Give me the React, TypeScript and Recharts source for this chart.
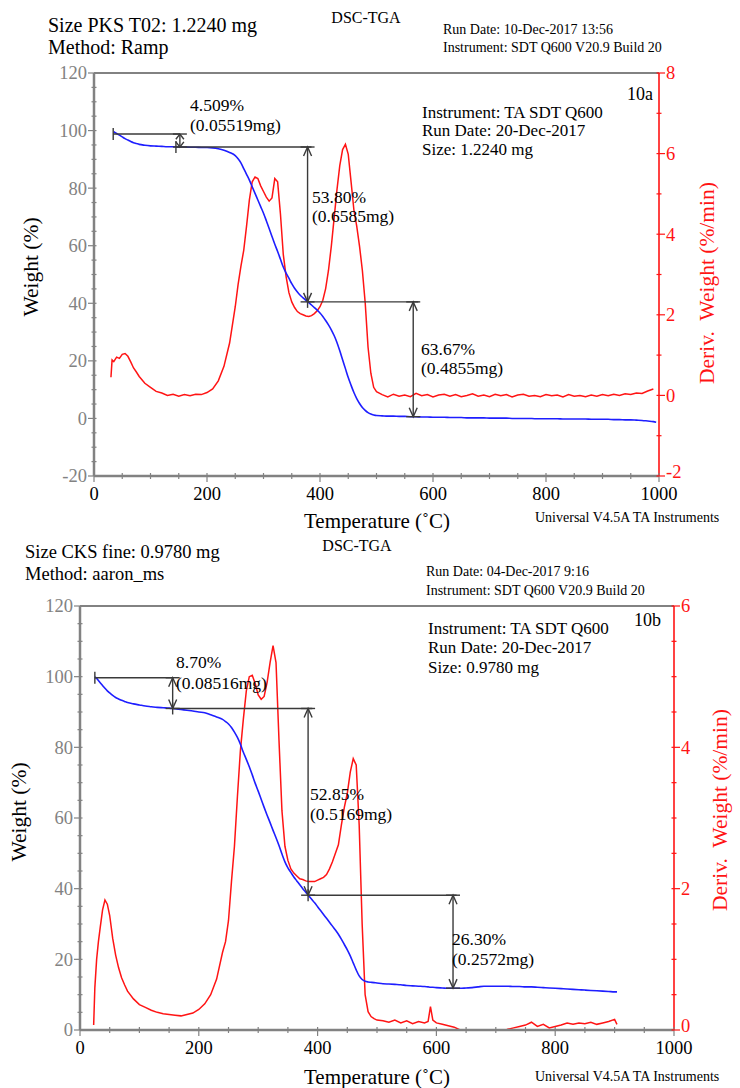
import React from "react";
import { ComposedChart, Line, ReferenceLine, XAxis, YAxis } from "recharts";

const FONT = '"Liberation Serif", "Times New Roman", serif';
const AXIS_GREY = "#828282";
const ANNOT = "#3a3a3a";
const BLUE = "#1e1eff";
const RED = "#ff1414";
const TICK_FS = 18.5;

// ---------- 10a : PKS T02 ----------
const tempA = [
  30, 32, 35, 40, 45, 50, 55, 60, 65, 70, 75, 80,
  90, 100, 110, 120, 130, 140, 150, 160, 170, 180, 190, 200, 210, 220, 230, 240,
  250, 255, 260, 265, 270, 275, 280, 285, 290, 295, 300,
  305, 310, 315, 320, 325, 330, 335, 340, 345, 350,
  355, 360, 365, 370, 375, 380, 385, 390, 395, 400,
  405, 410, 415, 420, 425, 430, 435, 440, 445, 450,
  455, 460, 465, 470, 475, 480, 485, 490, 495, 500,
  510, 520, 530, 540, 550, 560, 570, 580, 590, 600,
  610, 620, 630, 640, 650, 660, 670, 680, 690, 700,
  710, 720, 730, 740, 750, 760, 770, 780, 790, 800,
  810, 820, 830, 840, 850, 860, 870, 880, 890, 900,
  910, 920, 930, 940, 950, 960, 970, 980, 990, 995,
];
const weightA = [
  null, null, 99.6, 99.0, 98.4, 97.8, 97.2, 96.7, 96.2, 95.8, 95.5, 95.2,
  94.9, 94.7, 94.6, 94.5, 94.4, 94.4, 94.3, 94.3, 94.2, 94.2, 94.1, 94.1, 94.0, 93.7, 93.2, 92.4,
  91.3, 90.2, 88.8, 86.8, 84.8, 82.8, 80.5, 78.2, 75.9, 73.6, 71.3,
  68.7, 66.0, 63.2, 60.5, 58.0, 55.3, 52.6, 50.5, 48.7, 46.8,
  45.2, 43.9, 42.8, 41.9, 41.0, 40.2, 39.4, 38.5, 37.6, 36.6,
  35.4, 34.0, 32.5, 30.8, 28.8, 26.4, 23.5, 20.4, 17.3, 14.2,
  11.5, 9.0, 6.9, 5.2, 3.8, 2.8, 2.0, 1.5, 1.2, 1.0,
  0.9, 0.8, 0.8, 0.7, 0.7, 0.6, 0.6, 0.5, 0.5, 0.4,
  0.4, 0.4, 0.3, 0.3, 0.3, 0.2, 0.2, 0.2, 0.2, 0.1,
  0.1, 0.1, 0.1, 0.0, 0.0, 0.0, 0.0, -0.1, -0.1, -0.1,
  -0.1, -0.1, -0.2, -0.2, -0.2, -0.2, -0.2, -0.3, -0.3, -0.3,
  -0.3, -0.4, -0.4, -0.5, -0.5, -0.6, -0.7, -0.9, -1.1, -1.3,
];
const derivA = [
  0.45, 0.88, 0.84, 0.95, 0.92, 1.02, 1.04, 0.97, 0.83, 0.68, 0.58, 0.47,
  0.3, 0.2, 0.1, 0.06, 0.0, 0.03, -0.02, 0.02, -0.01, 0.03, 0.02, 0.07, 0.16, 0.36, 0.72, 1.3,
  2.2, 2.75, 3.2, 3.6, 4.2, 4.85, 5.3, 5.42, 5.38, 5.2, 5.06,
  4.92, 4.82, 4.9, 5.38, 5.3, 4.5, 3.5, 2.95, 2.55, 2.32,
  2.18, 2.08, 2.03, 2.0, 1.97, 1.96, 1.98, 2.03, 2.1, 2.2,
  2.36, 2.65, 3.1, 3.7, 4.4, 5.1, 5.7, 6.1, 6.23, 5.98,
  5.3, 4.6, 4.2, 3.7, 3.1, 2.3, 1.2, 0.55, 0.2, 0.09,
  0.02, -0.04, 0.03, -0.02, 0.01, -0.03, 0.05, -0.01, 0.02, -0.04,
  0.01, 0.03, -0.02, 0.02, -0.03, 0.0, 0.04, -0.02, 0.01, -0.03,
  0.03, -0.01, 0.02, -0.04, 0.01, 0.03, -0.02, 0.0, -0.03, 0.02,
  -0.01, 0.01, -0.04, 0.02, -0.02, 0.0, -0.03, 0.01, -0.02, 0.02,
  -0.01, 0.03, 0.0, 0.04, 0.02, 0.06, 0.05, 0.11, 0.16, null,
];
// step analysis: plateau levels (wt %), arrow temperatures, horizontal guide spans
const stepLevelA = [98.8, 94.29, 40.49, 0.6];
const stepTempA = [152, 378, 565];
const stepSpanA = [[34, 152], [145, 385], [378, 574]];

// ---------- 10b : CKS fine ----------
const tempB = [
  23, 25, 28, 31, 34, 38, 42, 46, 50, 55, 60, 65, 70, 75, 80,
  90, 100, 110, 120, 130, 140, 150, 160, 170, 180, 190, 200, 210, 220, 230, 240,
  245, 250, 255, 260, 265, 270, 275, 280, 285, 290,
  295, 300, 305, 310, 315, 320, 325, 330, 335, 340,
  345, 350, 355, 360, 365, 370, 375, 380, 385, 390,
  395, 400, 405, 410, 415, 420, 425, 430, 435, 440,
  445, 450, 455, 460, 465, 470, 475, 480, 485, 490,
  495, 500,
  510, 520, 530, 540, 550, 560, 570, 580, 586, 590, 594,
  600, 610, 620, 630, 640, 650, 660, 670, 680, 690,
  700, 710, 720, 730, 740, 750, 760, 770, 780, 790,
  800, 810, 820, 830, 840, 850, 860, 870, 880, 890,
  900, 904,
];
const weightB = [
  null, 99.9, 99.5, 98.9, 98.3, 97.5, 96.7, 96.0, 95.4, 94.7, 94.1, 93.7, 93.3, 93.0, 92.7,
  92.3, 92.0, 91.7, 91.5, 91.3, 91.2, 91.1, 90.9, 90.7, 90.5, 90.3, 90.0, 89.8, 89.2, 88.6, 87.9,
  87.3, 86.6, 85.6, 84.3, 82.8, 80.9, 78.6, 76.6, 74.5, 72.2,
  69.8, 67.6, 65.3, 63.0, 60.8, 58.7, 56.5, 54.4, 52.2, 49.8,
  47.6, 45.9, 44.6, 43.3, 42.2, 41.1, 40.0, 39.0, 38.0, 37.0,
  36.0, 34.9, 33.8, 32.7, 31.6, 30.5, 29.4, 28.3, 27.1, 25.7,
  24.2, 22.7, 21.0, 19.0, 17.0, 15.3, 14.3, 13.8, 13.6, 13.5,
  13.4, 13.3,
  13.1, 13.0, 12.9, 12.8, 12.6, 12.5, 12.4, 12.3, 12.2, 12.1, 12.1,
  12.0, 11.9, 11.8, 11.8, 11.8, 11.9, 12.0, 12.2, 12.4, 12.4,
  12.4, 12.4, 12.4, 12.3, 12.3, 12.2, 12.2, 12.1, 12.0, 11.9,
  11.8, 11.7, 11.6, 11.5, 11.4, 11.3, 11.2, 11.1, 11.0, 10.9,
  10.8, 10.8,
];
const derivB = [
  0.07, 0.6, 1.0, 1.25, 1.45, 1.7, 1.84, 1.78, 1.62, 1.3, 1.06, 0.88, 0.74, 0.64, 0.55,
  0.44, 0.36, 0.32, 0.28, 0.25, 0.23, 0.22, 0.21, 0.2, 0.22, 0.24, 0.29, 0.37, 0.5, 0.72, 1.1,
  1.25, 1.55, 2.1, 2.6, 3.3, 3.95, 4.4, 4.8, 5.0, 5.02,
  4.9, 4.74, 4.68, 4.72, 4.92, 5.2, 5.44, 5.2, 4.1, 3.1,
  2.6, 2.4, 2.28, 2.22, 2.18, 2.14, 2.13, 2.11, 2.1, 2.1,
  2.1, 2.12, 2.14, 2.16, 2.2, 2.28, 2.38, 2.5, 2.62, 2.9,
  3.15, 3.35, 3.65, 3.84, 3.75, 2.9, 1.5, 0.5, 0.26, 0.19,
  0.16, 0.14,
  0.13, 0.11, 0.14, 0.1, 0.13, 0.09, 0.12, 0.1, 0.12, 0.33, 0.14,
  0.1, 0.08, 0.06, 0.04, 0.0, -0.05, -0.06, -0.04, -0.05, -0.02,
  0.0, -0.03, 0.01, 0.03, 0.05, 0.07, 0.11, 0.05, 0.08, 0.03,
  0.05, 0.07, 0.1, 0.08, 0.1, 0.09, 0.11, 0.08, 0.1, 0.12,
  0.15, 0.08,
];
const stepLevelB = [99.7, 91.0, 38.15, 11.85];
const stepTempB = [156, 384, 628];
const stepSpanB = [[25, 156], [156, 391], [384, 634]];

// ---------- axis ticks ----------
const tempTicks = [0, 50, 100, 150, 200, 250, 300, 350, 400, 450, 500, 550, 600, 650, 700, 750, 800, 850, 900, 950, 1000];
const weightTicksA = [-20, -15, -10, -5, 0, 5, 10, 15, 20, 25, 30, 35, 40, 45, 50, 55, 60, 65, 70, 75, 80, 85, 90, 95, 100, 105, 110, 115, 120];
const derivTicksA = [-2, -1, 0, 1, 2, 3, 4, 5, 6, 7, 8];
const weightTicksB = [0, 5, 10, 15, 20, 25, 30, 35, 40, 45, 50, 55, 60, 65, 70, 75, 80, 85, 90, 95, 100, 105, 110, 115, 120];
const derivTicksB = [0, 0.5, 1, 1.5, 2, 2.5, 3, 3.5, 4, 4.5, 5, 5.5, 6];

const rowsA = tempA.map((t, i) => ({ t, w: weightA[i], d: derivA[i] }));
const rowsB = tempB.map((t, i) => ({ t, w: weightB[i], d: derivB[i] }));

const onStep = (v: number, step: number) => Math.abs(v / step - Math.round(v / step)) < 1e-6;

const yTick = (side: "left" | "right", major: number, color: string, lift: number) => (p: any) => {
  const { x, y, payload } = p;
  const v = payload.value;
  const big = onStep(v, major);
  const dir = side === "left" ? -1 : 1;
  // the lowest right-hand label sits a touch higher so it clears the 1000 label
  const dy = side === "right" && v === lift ? -4 : 0;
  return (
    <g>
      <line x1={x - dir * 2.5} x2={x + dir * (big ? 6 : 2.5)} y1={y} y2={y} stroke={color} strokeWidth={1.2} />
      {big && (
        <text
          x={x + dir * 7} y={y + dy} dy="0.35em" textAnchor={side === "left" ? "end" : "start"}
          fill={color} fontSize={TICK_FS} style={{ fontFamily: FONT }}
        >
          {v}
        </text>
      )}
    </g>
  );
};

const xTick = (p: any) => {
  const { x, y, payload } = p;
  const v = payload.value;
  const big = onStep(v, 200);
  return (
    <g>
      <line x1={x} x2={x} y1={y - 3} y2={y + (big ? 6 : 3)} stroke={AXIS_GREY} strokeWidth={1.2} />
      {big && (
        <text x={x} y={y + 18} dy="0.35em" textAnchor="middle" fill="#000" fontSize={TICK_FS} style={{ fontFamily: FONT }}>
          {v}
        </text>
      )}
    </g>
  );
};

// horizontal guide with a small tick where it starts
const guideShape = (p: any) => (
  <g>
    <line x1={p.x1} y1={p.y1} x2={p.x2} y2={p.y2} stroke={ANNOT} strokeWidth={1.4} />
    <line x1={p.x1} y1={p.y1 - 6} x2={p.x1} y2={p.y1 + 6} stroke={ANNOT} strokeWidth={1.4} />
  </g>
);

// double-headed arrow between two plateaus
const arrowShape = (p: any) => {
  const { x1, y1, y2 } = p;
  const h = Math.min(9, Math.abs(y2 - y1) / 2.5);
  return (
    <g stroke={ANNOT} strokeWidth={1.4} fill="none">
      <line x1={x1} y1={y1} x2={x1} y2={y2} />
      <line x1={x1 - 7} y1={y1} x2={x1 + 7} y2={y1} />
      <line x1={x1 - 7} y1={y2} x2={x1 + 7} y2={y2} />
      <polyline points={`${x1 - 4},${y1 + h} ${x1},${y1} ${x1 + 4},${y1 + h}`} />
      <polyline points={`${x1 - 4},${y2 - h} ${x1},${y2} ${x1 + 4},${y2 - h}`} />
    </g>
  );
};

function Txt({ x, y, size = 15, anchor = "start", color = "#000", rotate = false, children }: any) {
  const tx = anchor === "start" ? "0" : anchor === "middle" ? "-50%" : "-100%";
  return (
    <div
      style={{
        position: "absolute",
        left: x,
        top: y,
        transform: `translate(${tx}, -50%)${rotate ? " rotate(-90deg)" : ""}`,
        fontSize: size,
        lineHeight: 1,
        color,
        whiteSpace: "pre",
        fontFamily: FONT,
      }}
    >
      {children}
    </div>
  );
}

function TgaPanel({
  rows, width, height, top, left, rightW, xH, wDomain, dDomain, wTicks, dTicks, dMajor,
  levels, temps, spans,
}: any) {
  return (
    <ComposedChart width={width} height={height} data={rows} margin={{ top, right: 0, bottom: 0, left: 0 }}>
      <XAxis
        dataKey="t" type="number" domain={[0, 1000]} ticks={tempTicks} interval={0} height={xH}
        tickSize={0} tickMargin={0} tickLine={false} tick={xTick}
        axisLine={{ stroke: AXIS_GREY, strokeWidth: 2.5 }}
      />
      <YAxis
        yAxisId="w" domain={wDomain} ticks={wTicks} interval={0} width={left} allowDataOverflow
        tickSize={0} tickMargin={0} tickLine={false} tick={yTick("left", 20, AXIS_GREY, NaN)}
        axisLine={{ stroke: AXIS_GREY, strokeWidth: 2.5 }}
      />
      <YAxis
        yAxisId="d" orientation="right" domain={dDomain} ticks={dTicks} interval={0} width={rightW} allowDataOverflow
        tickSize={0} tickMargin={0} tickLine={false} tick={yTick("right", dMajor, RED, dDomain[0])}
        axisLine={{ stroke: RED, strokeWidth: 1.6 }}
      />
      <ReferenceLine yAxisId="w" y={wDomain[1]} stroke={AXIS_GREY} strokeWidth={2} />
      <Line yAxisId="d" dataKey="d" type="linear" stroke={RED} strokeWidth={1.5} dot={false} isAnimationActive={false} />
      <Line yAxisId="w" dataKey="w" type="monotone" stroke={BLUE} strokeWidth={1.6} dot={false} isAnimationActive={false} />
      {spans.map(([a, b]: number[], i: number) => (
        <ReferenceLine
          key={`g${i}`} yAxisId="w" ifOverflow="visible"
          segment={[{ x: a, y: levels[i] }, { x: b, y: levels[i] }]}
          shape={guideShape}
        />
      ))}
      {temps.map((t: number, i: number) => (
        <ReferenceLine
          key={`a${i}`} yAxisId="w" ifOverflow="visible"
          segment={[{ x: t, y: levels[i] }, { x: t, y: levels[i + 1] }]}
          shape={arrowShape}
        />
      ))}
    </ComposedChart>
  );
}

export default function App() {
  return (
    <div style={{ position: "absolute", left: 0, top: 0, width: 740, height: 1088, background: "#fff", fontFamily: FONT }}>
      {/* ---- 10a ---- */}
      <div style={{ position: "absolute", left: 0, top: 0 }}>
        <TgaPanel
          rows={rowsA} width={740} height={540} top={73} left={94} rightW={81} xH={64}
          wDomain={[-20, 120]} dDomain={[-2, 8]} wTicks={weightTicksA} dTicks={derivTicksA} dMajor={2}
          levels={stepLevelA} temps={stepTempA} spans={stepSpanA}
        />
      </div>
      <Txt x={48} y={25} size={20}>Size PKS T02: 1.2240 mg</Txt>
      <Txt x={48} y={47} size={20}>Method: Ramp</Txt>
      <Txt x={366} y={18} size={16} anchor="middle">DSC-TGA</Txt>
      <Txt x={443} y={30} size={14}>Run Date: 10-Dec-2017 13:56</Txt>
      <Txt x={443} y={48} size={14}>Instrument: SDT Q600 V20.9 Build 20</Txt>
      <Txt x={653} y={94} size={18} anchor="end">10a</Txt>
      <Txt x={422} y={112} size={17}>Instrument: TA SDT Q600</Txt>
      <Txt x={422} y={130} size={17}>Run Date: 20-Dec-2017</Txt>
      <Txt x={422} y={149} size={17}>Size: 1.2240 mg</Txt>
      <Txt x={190} y={106} size={17.5}>4.509%</Txt>
      <Txt x={190} y={126} size={17.5}>(0.05519mg)</Txt>
      <Txt x={312} y={198} size={17.5}>53.80%</Txt>
      <Txt x={312} y={217} size={17.5}>(0.6585mg)</Txt>
      <Txt x={421} y={350} size={17.5}>63.67%</Txt>
      <Txt x={421} y={369} size={17.5}>(0.4855mg)</Txt>
      <Txt x={32} y={267} size={21.5} anchor="middle" rotate>Weight (%)</Txt>
      <Txt x={708} y={283} size={21.5} anchor="middle" rotate color={RED}>{"Deriv.  Weight (%/min)"}</Txt>
      <Txt x={377} y={521} size={21} anchor="middle">Temperature (˚C)</Txt>
      <Txt x={535} y={518} size={14}>Universal V4.5A TA Instruments</Txt>

      {/* ---- 10b ---- */}
      <div style={{ position: "absolute", left: 0, top: 540 }}>
        <TgaPanel
          rows={rowsB} width={740} height={548} top={66} left={80} rightW={66} xH={58}
          wDomain={[0, 120]} dDomain={[0, 6]} wTicks={weightTicksB} dTicks={derivTicksB} dMajor={2}
          levels={stepLevelB} temps={stepTempB} spans={stepSpanB}
        />
      </div>
      <Txt x={25} y={552} size={18.5}>Size CKS fine: 0.9780 mg</Txt>
      <Txt x={25} y={574} size={18.5}>Method: aaron_ms</Txt>
      <Txt x={357} y={546} size={16} anchor="middle">DSC-TGA</Txt>
      <Txt x={426} y={572} size={14}>Run Date: 04-Dec-2017 9:16</Txt>
      <Txt x={426} y={591} size={14}>Instrument: SDT Q600 V20.9 Build 20</Txt>
      <Txt x={661} y={620} size={18} anchor="end">10b</Txt>
      <Txt x={428} y={628} size={17}>Instrument: TA SDT Q600</Txt>
      <Txt x={428} y={647} size={17}>Run Date: 20-Dec-2017</Txt>
      <Txt x={428} y={667} size={17}>Size: 0.9780 mg</Txt>
      <Txt x={176} y={663} size={17.5}>8.70%</Txt>
      <Txt x={176} y={684} size={17.5}>(0.08516mg)</Txt>
      <Txt x={310} y={795} size={17.5}>52.85%</Txt>
      <Txt x={310} y={815} size={17.5}>(0.5169mg)</Txt>
      <Txt x={452} y={940} size={17.5}>26.30%</Txt>
      <Txt x={452} y={960} size={17.5}>(0.2572mg)</Txt>
      <Txt x={20} y={812} size={21.5} anchor="middle" rotate>Weight (%)</Txt>
      <Txt x={721} y={810} size={21.5} anchor="middle" rotate color={RED}>{"Deriv.  Weight (%/min)"}</Txt>
      <Txt x={377} y={1077} size={21} anchor="middle">Temperature (˚C)</Txt>
      <Txt x={535} y={1077} size={14}>Universal V4.5A TA Instruments</Txt>
    </div>
  );
}
